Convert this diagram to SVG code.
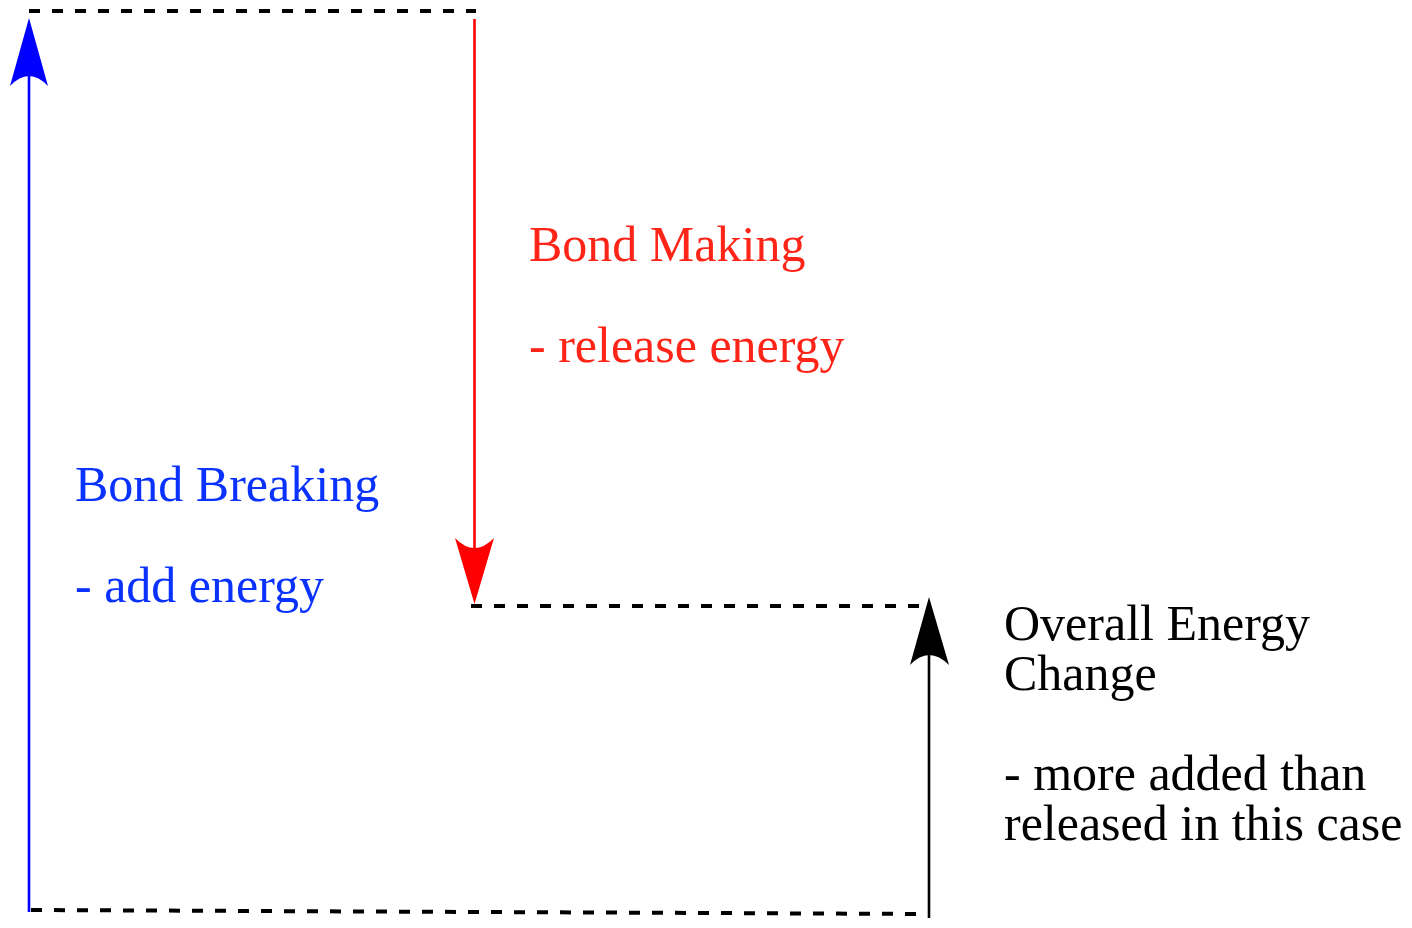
<svg xmlns="http://www.w3.org/2000/svg" width="1412" height="928" viewBox="0 0 1412 928">
<style>
.dash{fill:none;stroke:#000;stroke-width:4;stroke-dasharray:11 12}
.t{font-family:"Liberation Serif","Times New Roman",serif;font-size:50px}
</style>
<rect width="1412" height="928" fill="#fff"/>
<g id="connectors">
<line class="dash" x1="29" y1="11" x2="476" y2="11"/>
<line class="dash" x1="471" y1="606" x2="926" y2="606"/>
<line class="dash" x1="31" y1="910" x2="929" y2="914"/>
<g id="bond-breaking-arrow">
<line x1="29" y1="912" x2="29" y2="75" stroke="#0000ff" stroke-width="2.6"/>
<path d="M29 18 L48 86 Q29 66 10 86 Z" fill="#0000ff"/>
</g>
<g id="bond-making-arrow">
<line x1="474.5" y1="19" x2="474.5" y2="555" stroke="#ff0000" stroke-width="2.6"/>
<path d="M474.5 604 L455 538 Q474.5 558 494 538 Z" fill="#ff0000"/>
</g>
<g id="overall-arrow">
<line x1="929" y1="918" x2="929" y2="650" stroke="#000" stroke-width="2.6"/>
<path d="M929 597 L949 665 Q929 645 910 665 Z" fill="#000"/>
</g>
</g>
<g id="bond-making-label" class="t" fill="#ff2418">
<text x="529" y="261">Bond Making</text>
<text x="529" y="362">- release energy</text>
</g>
<g id="bond-breaking-label" class="t" fill="#0a32ff">
<text x="75" y="501">Bond Breaking</text>
<text x="75" y="602">- add energy</text>
</g>
<g id="overall-label" class="t" fill="#000">
<text x="1004" y="640">Overall Energy</text>
<text x="1004" y="690">Change</text>
<text x="1004" y="790">- more added than</text>
<text x="1004" y="840">released in this case</text>
</g>
</svg>
